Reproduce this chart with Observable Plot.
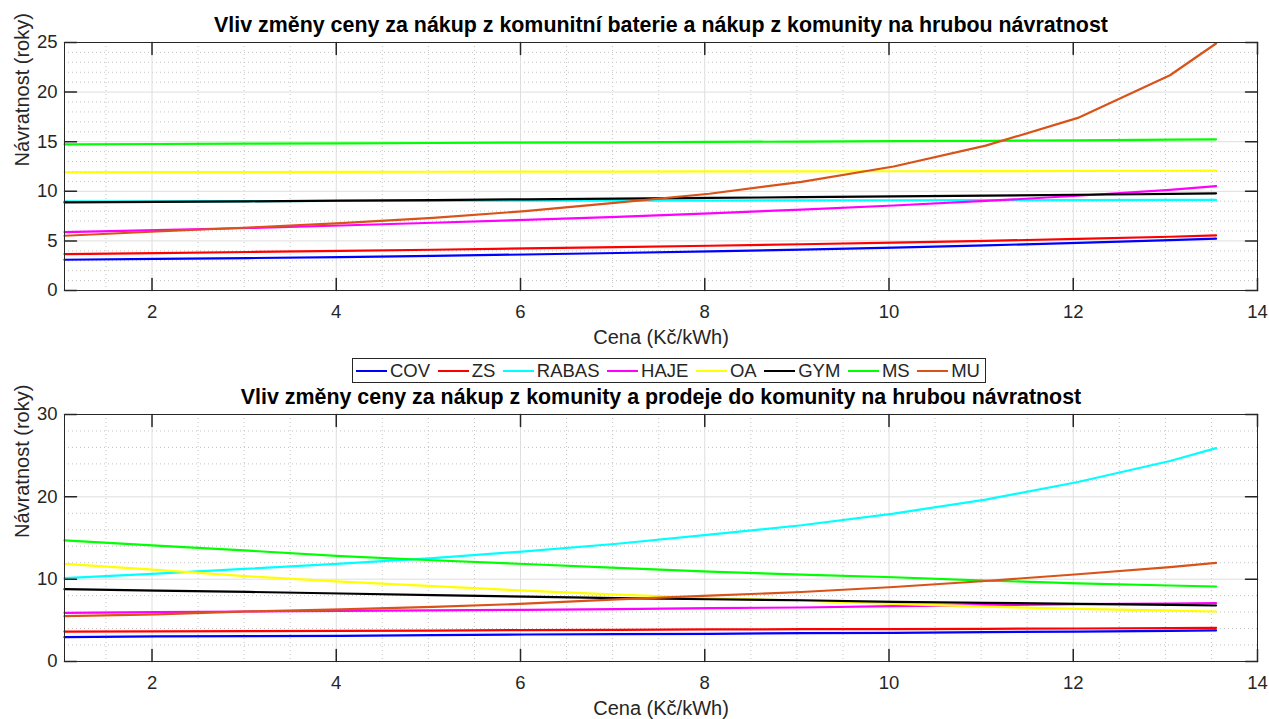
<!DOCTYPE html>
<html>
<head>
<meta charset="utf-8">
<script src="https://cdn.jsdelivr.net/npm/d3@7"></script>
<script src="https://cdn.jsdelivr.net/npm/@observablehq/plot@0.6"></script>
<style>
  html, body { margin: 0; padding: 0; background: #fff; }
  #root { position: relative; width: 1269px; height: 719px; background: #fff; overflow: hidden;
          font-family: "Liberation Sans", Arial, Helvetica, sans-serif; }
  #p1 { position: absolute; left: 0; top: 0; }
  #p2 { position: absolute; left: 0; top: 360px; }
  #legend { position: absolute; left: 352px; top: 358px; width: 634px; height: 25px; box-sizing: border-box;
            border: 1px solid #262626; background: #fff; display: flex; align-items: center;
            justify-content: space-between; padding: 0 5px 0 3px; font-size: 18.5px; color: #262626; z-index: 5; }
  .item { display: flex; align-items: center; white-space: nowrap; }
  .swatch { display: inline-block; width: 31px; height: 2px; margin-right: 3px; }
</style>
</head>
<body>
<div id="root">
  <div id="p1"></div>
  <div id="p2"></div>
  <div id="legend"></div>
</div>
<script>
// ---- data ----
const cena = [1.05, 2.05, 3.05, 4.05, 5.05, 6.05, 7.05, 8.05, 9.05, 10.05, 11.05, 12.05, 13.05, 13.55];
const names = ["COV", "ZS", "RABAS", "HAJE", "OA", "GYM", "MS", "MU"];
const colors = ["#0000ff", "#ff0000", "#00ffff", "#ff00ff", "#ffff00", "#000000", "#00ff00", "#d95319"];

// top: nákup z komunitní baterie a nákup z komunity
const bat_COV   = [3.10, 3.18, 3.27, 3.37, 3.50, 3.63, 3.78, 3.95, 4.12, 4.33, 4.55, 4.80, 5.07, 5.22];
const bat_ZS    = [3.67, 3.77, 3.88, 3.99, 4.11, 4.24, 4.37, 4.51, 4.66, 4.82, 5.00, 5.20, 5.42, 5.55];
const bat_RABAS = [8.98, 8.99, 9.00, 9.02, 9.04, 9.05, 9.06, 9.07, 9.08, 9.10, 9.11, 9.12, 9.13, 9.13];
const bat_HAJE  = [5.89, 6.08, 6.30, 6.55, 6.83, 7.12, 7.43, 7.78, 8.15, 8.57, 9.03, 9.55, 10.15, 10.52];
const bat_OA    = [11.91, 11.93, 11.94, 11.95, 11.97, 11.98, 11.99, 12.00, 12.01, 12.02, 12.04, 12.05, 12.07, 12.08];
const bat_GYM   = [8.88, 8.93, 8.99, 9.05, 9.12, 9.19, 9.26, 9.33, 9.41, 9.49, 9.57, 9.65, 9.74, 9.80];
const bat_MS    = [14.74, 14.77, 14.80, 14.84, 14.87, 14.91, 14.94, 14.98, 15.01, 15.05, 15.09, 15.14, 15.20, 15.24];
const bat_MU    = [5.52, 5.95, 6.35, 6.80, 7.33, 8.00, 8.85, 9.75, 10.95, 12.50, 14.60, 17.40, 21.70, 24.90];

// bottom: nákup z komunity a prodej do komunity
const kom_COV   = [2.96, 3.04, 3.08, 3.12, 3.20, 3.28, 3.32, 3.36, 3.44, 3.48, 3.56, 3.64, 3.72, 3.77];
const kom_ZS    = [3.64, 3.65, 3.68, 3.72, 3.76, 3.81, 3.85, 3.89, 3.93, 3.94, 3.97, 4.01, 4.05, 4.09];
const kom_RABAS = [10.12, 10.68, 11.28, 11.88, 12.55, 13.38, 14.30, 15.40, 16.55, 17.97, 19.67, 21.80, 24.35, 25.91];
const kom_HAJE  = [5.91, 5.99, 6.07, 6.15, 6.21, 6.28, 6.36, 6.48, 6.56, 6.72, 6.84, 6.96, 7.04, 7.09];
const kom_OA    = [11.86, 11.14, 10.34, 9.70, 9.15, 8.60, 8.12, 7.71, 7.39, 7.00, 6.66, 6.39, 6.18, 6.07];
const kom_GYM   = [8.79, 8.61, 8.45, 8.26, 8.07, 7.88, 7.69, 7.56, 7.44, 7.24, 7.12, 7.00, 6.88, 6.80];
const kom_MS    = [14.70, 14.07, 13.46, 12.81, 12.30, 11.84, 11.36, 10.91, 10.56, 10.23, 9.83, 9.50, 9.23, 9.11];
const kom_MU    = [5.51, 5.72, 6.08, 6.33, 6.63, 7.02, 7.55, 8.00, 8.44, 9.05, 9.78, 10.60, 11.47, 11.98];

// axes
const xDomain = [1.05, 14];
const xTicks = [2, 4, 6, 8, 10, 12, 14];
const xMinor = [1.5, 2.5, 3, 3.5, 4.5, 5, 5.5, 6.5, 7, 7.5, 8.5, 9, 9.5, 10.5, 11, 11.5, 12.5, 13, 13.5];
const y1Domain = [0, 25];
const y1Ticks = [0, 5, 10, 15, 20, 25];
const y1Minor = [1, 2, 3, 4, 6, 7, 8, 9, 11, 12, 13, 14, 16, 17, 18, 19, 21, 22, 23, 24];
const y2Domain = [0, 30];
const y2Ticks = [0, 10, 20, 30];
const y2Minor = [2, 4, 6, 8, 12, 14, 16, 18, 22, 24, 26, 28];

const xLabel = "Cena (Kč/kWh)";
const yLabel = "Návratnost (roky)";
const title1 = "Vliv změny ceny za nákup z komunitní baterie a nákup z komunity na hrubou návratnost";
const title2 = "Vliv změny ceny za nákup z komunity a prodeje do komunity na hrubou návratnost";

// ---- drawing ----
const tickShape = { draw(context, l) { context.moveTo(0, 0); context.lineTo(0, -l); } };
const axisColor = "#262626";

function chart({ series, yDomain, yTicks, yMinor, title, height, marginTop, marginBottom }) {
  const rows = [];
  names.forEach((n, i) => series[i].forEach((v, j) => rows.push({ x: cena[j], y: v, s: n })));
  return Plot.plot({
    width: 1269, height, marginLeft: 64, marginRight: 12, marginTop, marginBottom,
    style: { fontFamily: "'Liberation Sans', Arial, Helvetica, sans-serif", fontSize: "18.5px", color: axisColor, background: "white", overflow: "visible" },
    x: { domain: xDomain },
    y: { domain: yDomain },
    color: { domain: names, range: colors },
    marks: [
      Plot.ruleX(xMinor, { x: d => d, stroke: "#c4c4c4", strokeDasharray: "1,3" }),
      Plot.ruleY(yMinor, { y: d => d, stroke: "#c4c4c4", strokeDasharray: "1,3" }),
      Plot.ruleX(xTicks, { x: d => d, stroke: "#dedede" }),
      Plot.ruleY(yTicks, { y: d => d, stroke: "#dedede" }),
      Plot.line(rows, { x: "x", y: "y", z: "s", stroke: "s", strokeWidth: 2.2 }),
      Plot.frame({ stroke: axisColor }),
      Plot.vector(xTicks, { x: d => d, y: () => yDomain[0], length: 12, rotate: 0, anchor: "start", shape: tickShape, stroke: axisColor }),
      Plot.vector(xTicks, { x: d => d, y: () => yDomain[1], length: 12, rotate: 180, anchor: "start", shape: tickShape, stroke: axisColor }),
      Plot.vector(yTicks, { x: () => xDomain[0], y: d => d, length: 12, rotate: 90, anchor: "start", shape: tickShape, stroke: axisColor }),
      Plot.vector(yTicks, { x: () => xDomain[1], y: d => d, length: 12, rotate: 270, anchor: "start", shape: tickShape, stroke: axisColor }),
      Plot.axisX(xTicks, { anchor: "bottom", tickSize: 0, tickPadding: 14, tickFormat: d => String(d), label: null, fill: axisColor }),
      Plot.axisY(yTicks, { anchor: "left", tickSize: 0, tickPadding: 7, tickFormat: d => String(d), label: null, fill: axisColor }),
      Plot.text([xLabel], { text: d => d, frameAnchor: "bottom", dy: 47, fontSize: 20, lineAnchor: "middle", fill: axisColor }),
      Plot.text([yLabel], { text: d => d, frameAnchor: "left", dx: -42, rotate: -90, fontSize: 20, lineAnchor: "middle", fill: axisColor }),
      Plot.text([title], { text: d => d, frameAnchor: "top", dy: -17, fontSize: 21.4, fontWeight: "bold", lineAnchor: "middle", fill: "#000" })
    ]
  });
}

document.getElementById("p1").append(chart({
  series: [bat_COV, bat_ZS, bat_RABAS, bat_HAJE, bat_OA, bat_GYM, bat_MS, bat_MU],
  yDomain: y1Domain, yTicks: y1Ticks, yMinor: y1Minor, title: title1,
  height: 360, marginTop: 42, marginBottom: 70
}));
document.getElementById("p2").append(chart({
  series: [kom_COV, kom_ZS, kom_RABAS, kom_HAJE, kom_OA, kom_GYM, kom_MS, kom_MU],
  yDomain: y2Domain, yTicks: y2Ticks, yMinor: y2Minor, title: title2,
  height: 359, marginTop: 54, marginBottom: 58
}));

const legend = document.getElementById("legend");
names.forEach((n, i) => {
  const it = document.createElement("span");
  it.className = "item";
  const sw = document.createElement("span");
  sw.className = "swatch";
  sw.style.background = colors[i];
  it.append(sw, document.createTextNode(n));
  legend.append(it);
});
</script>
</body>
</html>
